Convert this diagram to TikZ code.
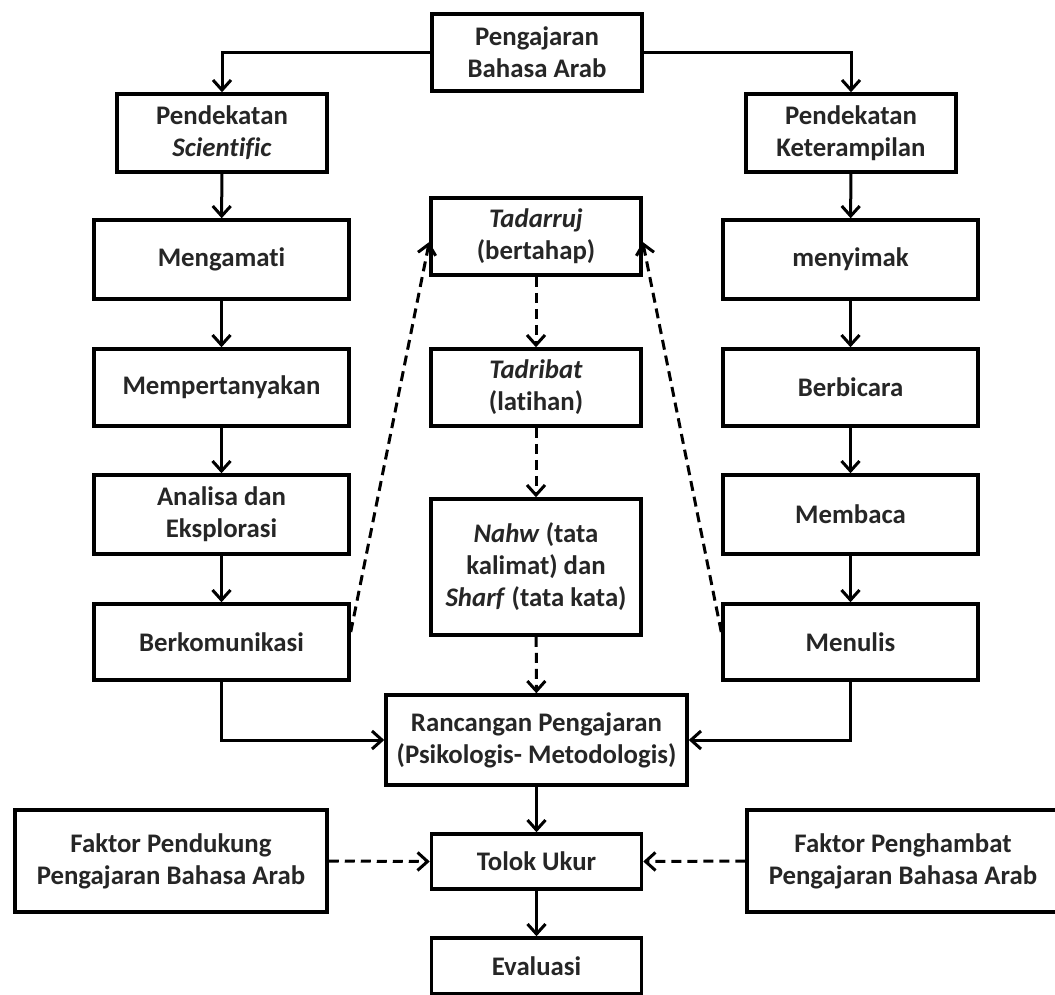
\documentclass[tikz,border=0pt]{standalone}
\usepackage{fontspec}
\setmainfont[Ligatures=NoCommon]{Carlito}
\usetikzlibrary{arrows.meta}
\begin{document}
\begin{tikzpicture}[x=1pt,y=-1pt,
  box/.style={draw=black, line width=3.5pt, fill=white, align=center,
    font=\bfseries\fontsize{26.8}{32}\selectfont, text=black!85, inner sep=0pt},
  arr/.style={line width=3pt, -{Straight Barb[length=10pt,width=18pt,line width=3pt]}},
  darr/.style={arr, dash pattern=on 10pt off 6pt},
]
\useasboundingbox (0,0) rectangle (1055,994);
\clip (0,0) rectangle (1055,994);
\fill[white] (0,0) rectangle (1055,994);

% top
\node[box, minimum width=210pt, minimum height=77pt] (top) at (537,52.5) {Pengajaran\\Bahasa Arab};
\node[box, minimum width=210pt, minimum height=78pt] (ps) at (222,133) {Pendekatan\\\textit{Scientific}};
\node[box, minimum width=210pt, minimum height=78pt] (pk) at (851,133) {Pendekatan\\Keterampilan};

% left column
\node[box, minimum width=255pt, minimum height=79pt] (meng) at (221.5,259.5) {Mengamati};
\node[box, minimum width=255pt, minimum height=77pt] (mem) at (221.5,387.5) {Mempertanyakan};
\node[box, minimum width=255pt, minimum height=79pt] (ana) at (221.5,514.5) {Analisa dan\\Eksplorasi};
\node[box, minimum width=255pt, minimum height=76pt] (berk) at (221.5,642) {Berkomunikasi};

% right column
\node[box, minimum width=255pt, minimum height=79pt] (meny) at (850.5,259.5) {menyimak};
\node[box, minimum width=255pt, minimum height=77pt] (berb) at (850.5,387.5) {Berbicara};
\node[box, minimum width=255pt, minimum height=79pt] (memb) at (850.5,514.5) {Membaca};
\node[box, minimum width=255pt, minimum height=76pt] (men) at (850.5,642) {Menulis};

% centre column
\node[box, minimum width=210pt, minimum height=77pt] (tad) at (536,236.5) {\textit{Tadarruj}\\(bertahap)};
\node[box, minimum width=210pt, minimum height=77pt] (tadr) at (536,387.5) {\textit{Tadribat}\\(latihan)};
\node[box, minimum width=210pt, minimum height=136pt] (nahw) at (536,567) {\textit{Nahw} (tata\\kalimat) dan\\\textit{Sharf} (tata kata)};
\node[box, minimum width=301pt, minimum height=90pt] (ranc) at (536.5,740) {Rancangan Pengajaran\\(Psikologis- Metodologis)};
\node[box, minimum width=210pt, minimum height=55pt] (tol) at (536.5,861.5) {Tolok Ukur};
\node[box, minimum width=210pt, minimum height=56pt] (eval) at (536.5,966) {Evaluasi};

% factors
\node[box, minimum width=312pt, minimum height=102pt] (fp) at (171,861) {Faktor Pendukung\\Pengajaran Bahasa Arab};
\node[box, minimum width=312pt, minimum height=102pt] (fh) at (903,861) {Faktor Penghambat\\Pengajaran Bahasa Arab};

% connectors
\draw[arr] (top.west) -| (ps.north);
\draw[arr] (top.east) -| (pk.north);
\draw[arr] (ps) -- (meng);
\draw[arr] (meng) -- (mem);
\draw[arr] (mem) -- (ana);
\draw[arr] (ana) -- (berk);
\draw[arr] (pk) -- (meny);
\draw[arr] (meny) -- (berb);
\draw[arr] (berb) -- (memb);
\draw[arr] (memb) -- (men);
\draw[arr] (berk.south) |- (ranc.west);
\draw[arr] (men.south) |- (ranc.east);
\draw[darr] (tad) -- (tadr);
\draw[darr] (tadr) -- (nahw);
\draw[darr] (nahw) -- (ranc);
\draw[darr] ([yshift=10pt]berk.east) -- ([yshift=-5.5pt]tad.west);
\draw[darr] ([yshift=10pt]men.west) -- ([yshift=-5.5pt]tad.east);
\draw[arr] (ranc) -- (tol);
\draw[arr] (tol) -- (eval);
\draw[darr] (fp.east) -- (tol.west);
\draw[darr] (fh.west) -- (tol.east);
\end{tikzpicture}
\end{document}
